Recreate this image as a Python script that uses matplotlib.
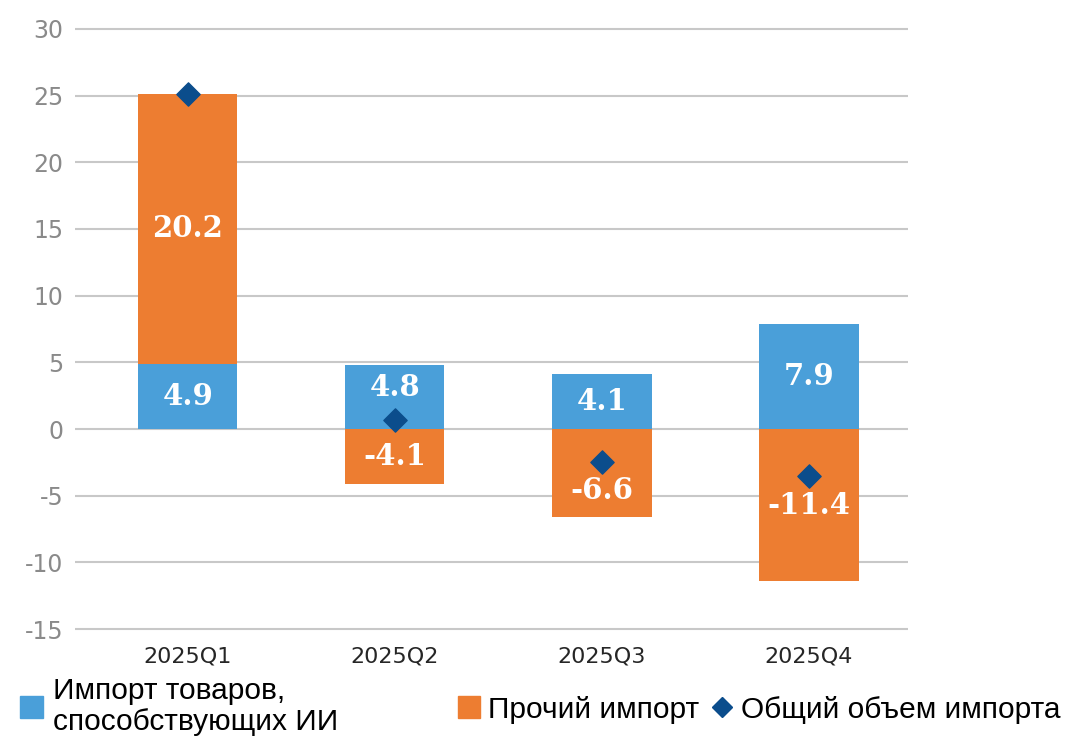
import numpy as np
import matplotlib.pyplot as plt
from matplotlib.patches import Patch
from matplotlib.lines import Line2D

quarters = ['2025Q1', '2025Q2', '2025Q3', '2025Q4']
ai_import = [4.9, 4.8, 4.1, 7.9]
other_import = [20.2, -4.1, -6.6, -11.4]
total_import = [25.1, 0.7, -2.5, -3.5]
yticks = [30, 25, 20, 15, 10, 5, 0, -5, -10, -15]

blue = '#4A9FD9'
orange = '#ED7D31'
navy = '#0B4D8C'

fig = plt.figure(figsize=(10.68, 7.41), dpi=100)
ax = fig.add_axes([0.070, 0.142, 0.780, 0.828])

x = np.arange(len(quarters))
w = 0.48
ai = np.array(ai_import)
oth = np.array(other_import)
tot = np.array(total_import)
# other import stacks on top of the positive part, or below zero when negative
oth_bottom = np.where(oth >= 0, ai, 0)
ax.bar(x, ai, w, color=blue, zorder=2)
ax.bar(x, oth, w, bottom=oth_bottom, color=orange, zorder=2)
ax.scatter(x, tot, marker='D', s=140, color=navy, zorder=4)

lab_font = dict(family='DejaVu Serif', weight='bold', fontsize=21, color='white',
                ha='center', va='center', zorder=5)
for i in range(len(x)):
    # nudge labels away from the diamond when it sits on top of them
    y1 = ai[i] / 2
    if abs(y1 - tot[i]) < 2:
        y1 = tot[i] + 2.4
    y2 = oth_bottom[i] + oth[i] / 2
    if abs(y2 - tot[i]) < 1.5:
        y2 = tot[i] - 2.1
    ax.text(x[i], y1, f'{ai[i]:.1f}', **lab_font)
    ax.text(x[i], y2, f'{oth[i]:.1f}', **lab_font)

ax.set_ylim(-15.5, 30.5)
ax.set_xlim(-0.546, 3.478)
ax.set_yticks(yticks)
ax.set_yticklabels([str(t) for t in yticks], fontsize=17, color='#8a8a8a')
ax.set_xticks(x)
ax.set_xticklabels(quarters, fontsize=16, color='#262626')
ax.tick_params(axis='y', length=0, pad=8)
ax.tick_params(axis='x', length=0, pad=8)
ax.grid(axis='y', color='#c8c8c8', lw=1.5, zorder=0)
ax.set_axisbelow(True)
for s in ax.spines.values():
    s.set_visible(False)

leg_font = dict(family='Liberation Sans', size=21.5)
h1 = [Patch(color=blue)]
leg1 = fig.legend(h1, ['Импорт товаров,\nспособствующих ИИ'], loc='lower left',
                  bbox_to_anchor=(-0.006, -0.03), frameon=False, prop=leg_font,
                  handlelength=0.75, handleheight=0.75, handletextpad=0.35)
leg1.get_texts()[0].set_linespacing(1.15)
h2 = [Patch(color=orange),
      Line2D([], [], marker='D', color=navy, lw=0, markersize=10)]
fig.legend(h2, ['Прочий импорт', 'Общий объем импорта'], loc='lower right',
           bbox_to_anchor=(1.018, -0.013), frameon=False, prop=leg_font, ncol=2,
           handlelength=0.75, handleheight=0.75, handletextpad=0.25, columnspacing=0.4)

fig.savefig('out.png', dpi=100)
